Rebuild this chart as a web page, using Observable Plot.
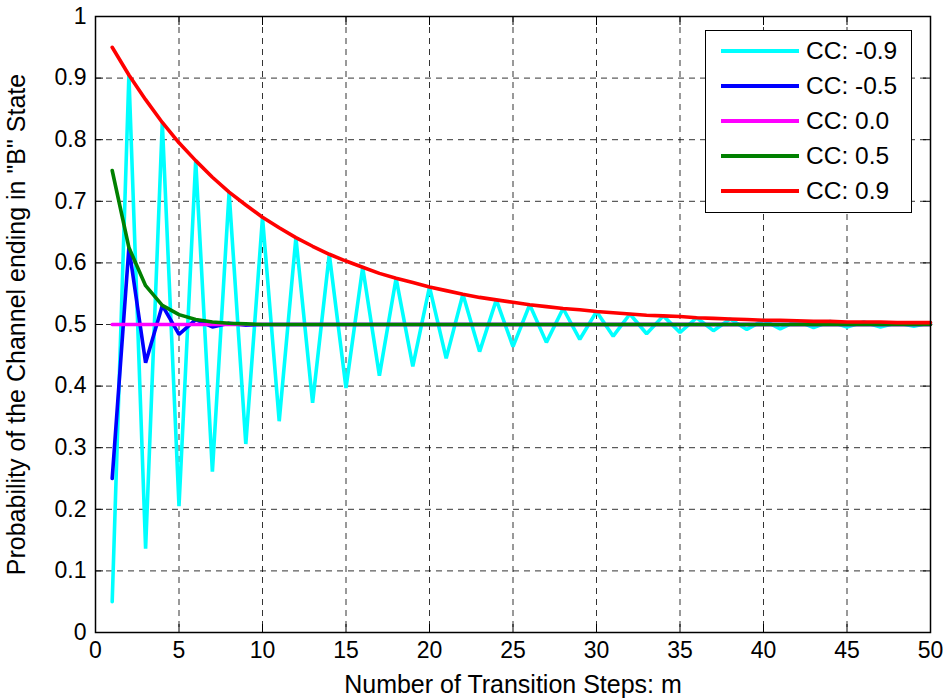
<!DOCTYPE html>
<html>
<head>
<meta charset="utf-8">
<script src="https://cdn.jsdelivr.net/npm/d3@7"></script>
<script src="https://cdn.jsdelivr.net/npm/@observablehq/plot@0.6"></script>
<style>
  html, body { margin: 0; padding: 0; background: white; }
  #wrap { position: relative; width: 943px; height: 700px; font-family: "Liberation Sans", Arial, Helvetica, sans-serif; }
  #legend { position: absolute; left: 705px; top: 30px; width: 207px; height: 183px; border: 1.5px solid black; background: white; box-sizing: border-box; }
  .row { position: absolute; left: 0; height: 30px; display: flex; align-items: center; }
  .sw { width: 78px; height: 4px; margin-left: 15px; margin-right: 7px; }
  .lab { font-size: 24.5px; color: black; white-space: nowrap; }
</style>
</head>
<body>
<div id="wrap"><div id="legend"></div></div>
<script>
const steps = [1,2,3,4,5,6,7,8,9,10,11,12,13,14,15,16,17,18,19,20,21,22,23,24,25,26,27,28,29,30,31,32,33,34,35,36,37,38,39,40,41,42,43,44,45,46,47,48,49,50];

const ccNeg09 = [0.050,0.905,0.136,0.828,0.205,0.766,0.261,0.715,0.306,0.674,0.343,0.641,0.373,0.614,0.397,0.593,0.417,0.575,0.432,0.561,0.445,0.549,0.456,0.540,0.464,0.532,0.471,0.526,0.476,0.521,0.481,0.517,0.485,0.514,0.487,0.511,0.490,0.509,0.492,0.507,0.493,0.506,0.495,0.505,0.496,0.504,0.496,0.503,0.497,0.503];
const ccNeg05 = [0.250,0.625,0.438,0.531,0.484,0.508,0.496,0.502,0.499,0.500,0.500,0.500,0.500,0.500,0.500,0.500,0.500,0.500,0.500,0.500,0.500,0.500,0.500,0.500,0.500,0.500,0.500,0.500,0.500,0.500,0.500,0.500,0.500,0.500,0.500,0.500,0.500,0.500,0.500,0.500,0.500,0.500,0.500,0.500,0.500,0.500,0.500,0.500,0.500,0.500];
const cc00 = [0.5,0.5,0.5,0.5,0.5,0.5,0.5,0.5,0.5,0.5,0.5,0.5,0.5,0.5,0.5,0.5,0.5,0.5,0.5,0.5,0.5,0.5,0.5,0.5,0.5,0.5,0.5,0.5,0.5,0.5,0.5,0.5,0.5,0.5,0.5,0.5,0.5,0.5,0.5,0.5,0.5,0.5,0.5,0.5,0.5,0.5,0.5,0.5,0.5,0.5];
const cc05 = [0.750,0.625,0.563,0.531,0.516,0.508,0.504,0.502,0.501,0.500,0.500,0.500,0.500,0.500,0.500,0.500,0.500,0.500,0.500,0.500,0.500,0.500,0.500,0.500,0.500,0.500,0.500,0.500,0.500,0.500,0.500,0.500,0.500,0.500,0.500,0.500,0.500,0.500,0.500,0.500,0.500,0.500,0.500,0.500,0.500,0.500,0.500,0.500,0.500,0.500];
const cc09 = [0.950,0.905,0.865,0.828,0.795,0.766,0.739,0.715,0.694,0.674,0.657,0.641,0.627,0.614,0.603,0.593,0.583,0.575,0.568,0.561,0.555,0.549,0.544,0.540,0.536,0.532,0.529,0.526,0.524,0.521,0.519,0.517,0.515,0.514,0.513,0.511,0.510,0.509,0.508,0.507,0.507,0.506,0.505,0.505,0.504,0.504,0.504,0.503,0.503,0.503];

const seriesNames = ["CC: -0.9", "CC: -0.5", "CC: 0.0", "CC: 0.5", "CC: 0.9"];
const seriesValues = [ccNeg09, ccNeg05, cc00, cc05, cc09];
const seriesColors = ["#00ffff", "#0000ff", "#ff00ff", "#008000", "#ff0000"];

const xTicks = [0,5,10,15,20,25,30,35,40,45,50];
const yTicks = [0,0.1,0.2,0.3,0.4,0.5,0.6,0.7,0.8,0.9,1];
const yTickLabels = ["0","0.1","0.2","0.3","0.4","0.5","0.6","0.7","0.8","0.9","1"];

const xLabel = "Number of Transition Steps: m";
const yLabel = "Probability of the Channel ending in \"B\" State";

const lineMarks = seriesValues.map((vals, i) =>
  Plot.line(steps.map((s, j) => ({m: s, p: vals[j]})), {x: "m", y: "p", stroke: seriesColors[i], strokeWidth: 3.6, strokeLinejoin: "miter"})
);

const gridStyle = {stroke: "black", strokeOpacity: 0.8, strokeWidth: 1, strokeDasharray: "6,5"};
const tickStyle = {tickSize: -8, tickFormat: () => "", label: null, stroke: "black", strokeWidth: 1};

const chart = Plot.plot({
  width: 943,
  height: 700,
  marginLeft: 95,
  marginRight: 13,
  marginTop: 16,
  marginBottom: 68,
  style: {fontFamily: "'Liberation Sans', Arial, Helvetica, sans-serif", fontSize: "23px", background: "white", color: "black", overflow: "visible"},
  x: {domain: [0, 50]},
  y: {domain: [0, 1]},
  marks: [
    Plot.gridX(xTicks.slice(1, -1), gridStyle),
    Plot.gridY(yTicks.slice(1, -1), gridStyle),
    Plot.axisX(xTicks, {anchor: "bottom", tickSize: 0, tickPadding: 9, fontSize: 23, label: null}),
    Plot.axisY(yTicks, {anchor: "left", tickSize: 0, tickPadding: 9, fontSize: 23, tickFormat: (d, i) => yTickLabels[i], label: null}),
    Plot.axisX({anchor: "bottom", ticks: [], label: xLabel, labelAnchor: "center", labelOffset: 60, labelArrow: "none", fontSize: 25}),
    Plot.axisY({anchor: "left", ticks: [], label: yLabel, labelAnchor: "center", labelOffset: 88, labelArrow: "none", fontSize: 25}),
    Plot.axisX(xTicks, {anchor: "bottom", ...tickStyle}),
    Plot.axisX(xTicks, {anchor: "top", ...tickStyle}),
    Plot.axisY(yTicks, {anchor: "left", ...tickStyle}),
    Plot.axisY(yTicks, {anchor: "right", ...tickStyle}),
    ...lineMarks,
    Plot.frame({stroke: "black", strokeWidth: 1.5})
  ]
});

const wrap = document.getElementById("wrap");
wrap.insertBefore(chart, wrap.firstChild);

const legend = document.getElementById("legend");
seriesNames.forEach((name, i) => {
  const row = document.createElement("div");
  row.className = "row";
  row.style.top = (5 + i * 35) + "px";
  const sw = document.createElement("div");
  sw.className = "sw";
  sw.style.background = seriesColors[i];
  const lab = document.createElement("span");
  lab.className = "lab";
  lab.textContent = name;
  row.appendChild(sw);
  row.appendChild(lab);
  legend.appendChild(row);
});
</script>
</body>
</html>
